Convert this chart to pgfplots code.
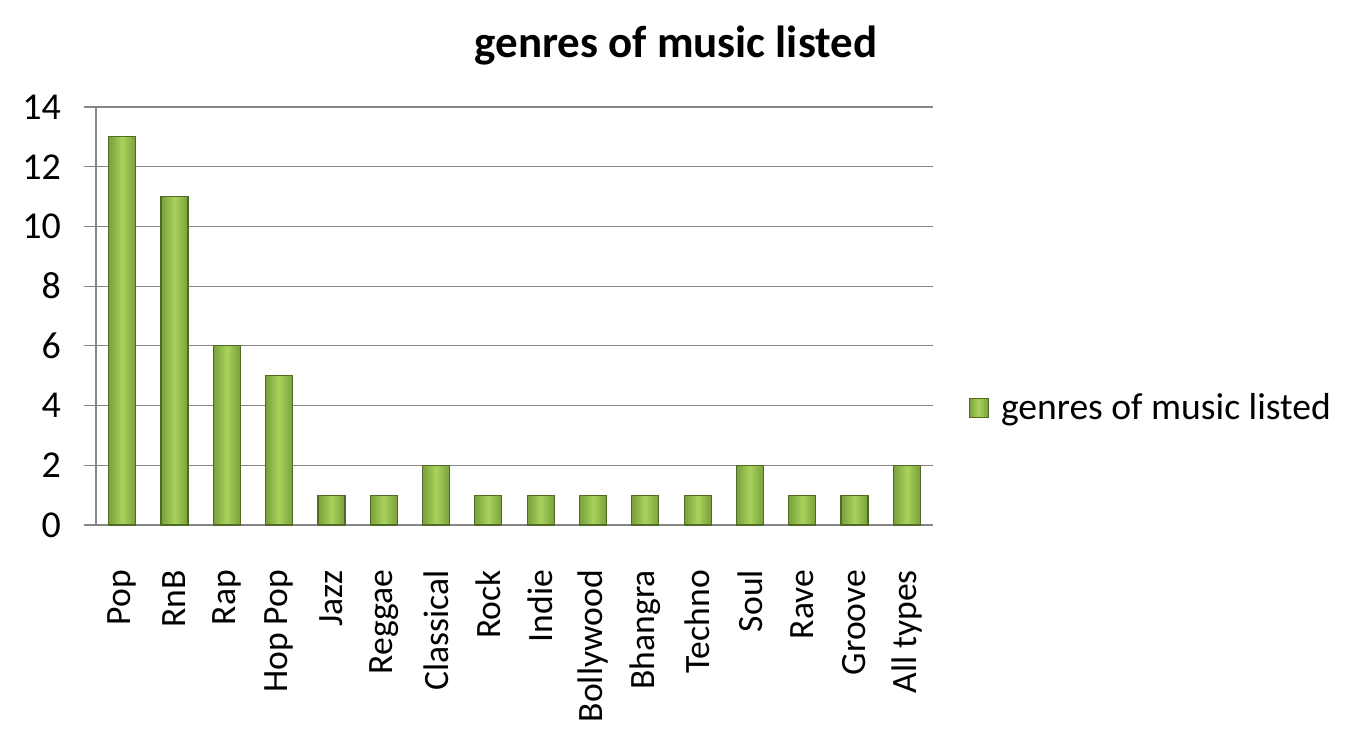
\documentclass[border=0pt]{standalone}
\usepackage{pgfplots}
\pgfplotsset{compat=1.18}
\usepackage{fontspec}
\setmainfont{Carlito}
\definecolor{gridgray}{HTML}{868686}
\definecolor{barmid}{HTML}{A8D35C}
\definecolor{baredge}{HTML}{7A9F3C}
\definecolor{barline}{HTML}{4F6B25}
\pgfplotsset{gbar/.style={left color=baredge, right color=baredge, middle color=barmid, draw=barline, line width=0.6pt, bar shift=0pt}}
\begin{document}
\begin{tikzpicture}[x=1pt,y=1pt]
\useasboundingbox (0,0) rectangle (676,372);
\node[font=\bfseries\fontsize{22.5}{24}\selectfont, anchor=center] at (338,349) {genres of music listed};
\begin{axis}[
  at={(48pt,109.5pt)}, anchor=south west,
  scale only axis, width=418.5pt, height=209pt,
  ymin=0, ymax=14, ytick={0,2,...,14},
  xmin=-0.5, xmax=15.5,
  xtick={0,...,15},
  xticklabels={Pop,RnB,Rap,Hop Pop,Jazz,Reggae,Classical,Rock,Indie,Bollywood,Bhangra,Techno,Soul,Rave,Groove,All types},
  x tick label style={rotate=90, anchor=east, font=\fontsize{17.8}{19}\selectfont, xshift=-13pt},
  y tick label style={font=\fontsize{19}{20}\selectfont, xshift=-8pt},
  /pgf/number format/assume math mode=true,
  major x tick style={draw=none},
  extra x ticks={-0.5,0.5,...,15.5},
  extra x tick labels={},
  extra x tick style={tick style={draw=gridgray, line width=0.6pt}, major tick length=5pt, tick align=outside, grid=none},
  ytick style={draw=gridgray, line width=0.6pt},
  major tick length=6pt, tick align=outside,
  ymajorgrids, grid style={gridgray, line width=0.6pt},
  axis x line*=bottom, axis y line*=left,
  axis line style={gridgray, line width=0.6pt, -},
  ybar, bar width=13.5pt,
  legend style={draw=none, fill=none, at={(1.035,0.28)}, anchor=west, font=\fontsize{18.8}{20}\selectfont, legend cell align=left},
  legend image code/.code={\fill[left color=baredge, right color=baredge, middle color=barmid, draw=barline, line width=0.3pt] (0pt,-4.8pt) rectangle (9.5pt,4.8pt); \path[draw=none, fill=none, shade=false] (0pt,0pt) -- (14pt,0pt);},
]
\addplot[gbar] coordinates {(0,13)};
\addlegendentry{genres of music listed}
\addplot[gbar, forget plot] coordinates {(1,11)};
\addplot[gbar, forget plot] coordinates {(2,6)};
\addplot[gbar, forget plot] coordinates {(3,5)};
\addplot[gbar, forget plot] coordinates {(4,1)};
\addplot[gbar, forget plot] coordinates {(5,1)};
\addplot[gbar, forget plot] coordinates {(6,2)};
\addplot[gbar, forget plot] coordinates {(7,1)};
\addplot[gbar, forget plot] coordinates {(8,1)};
\addplot[gbar, forget plot] coordinates {(9,1)};
\addplot[gbar, forget plot] coordinates {(10,1)};
\addplot[gbar, forget plot] coordinates {(11,1)};
\addplot[gbar, forget plot] coordinates {(12,2)};
\addplot[gbar, forget plot] coordinates {(13,1)};
\addplot[gbar, forget plot] coordinates {(14,1)};
\addplot[gbar, forget plot] coordinates {(15,2)};
\end{axis}
\end{tikzpicture}
\end{document}
